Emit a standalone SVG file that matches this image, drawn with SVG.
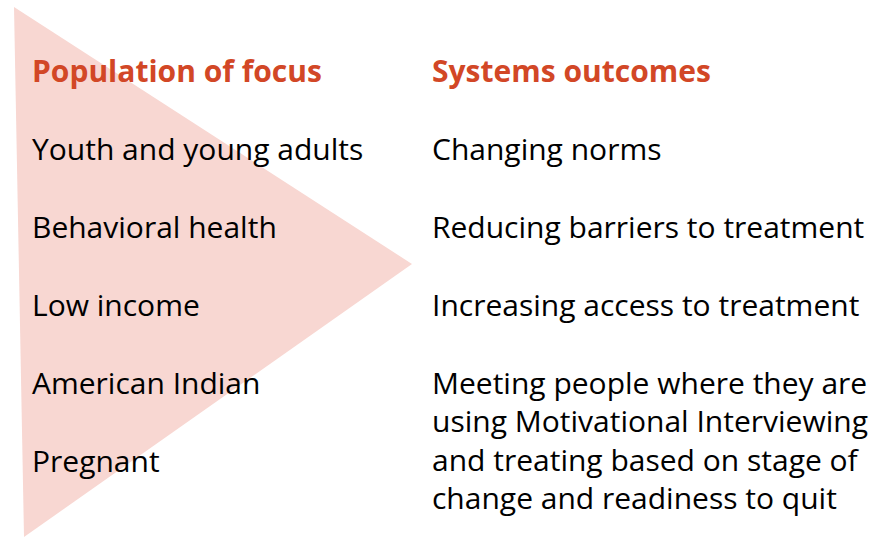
<svg xmlns="http://www.w3.org/2000/svg" width="893" height="537" viewBox="0 0 893 537">
<style>
text{font-family:"Open Sans","Noto Sans","Liberation Sans",sans-serif;font-size:30px;fill:#000}
.h{font-weight:bold;fill:#D24726}
</style>
<rect width="893" height="537" fill="#fff"/>
<g id="triangle"><polygon points="14,7 412,264 24,537" fill="#F8D7D2"/></g>
<g id="population">
<text class="h" x="32" y="82">Population of focus</text>
<text x="32" y="160">Youth and young adults</text>
<text x="32" y="238">Behavioral health</text>
<text x="32" y="316">Low income</text>
<text x="32" y="394">American Indian</text>
<text x="32" y="472">Pregnant</text>
</g>
<g id="outcomes">
<text class="h" x="432" y="82">Systems outcomes</text>
<text x="432" y="160">Changing norms</text>
<text x="432" y="238">Reducing barriers to treatment</text>
<text x="432" y="316">Increasing access to treatment</text>
<text x="432" y="394">Meeting people where they are</text>
<text x="432" y="432">using Motivational Interviewing</text>
<text x="432" y="471">and treating based on stage of</text>
<text x="432" y="509">change and readiness to quit</text>
</g>
<g id="connectors"/>
</svg>
